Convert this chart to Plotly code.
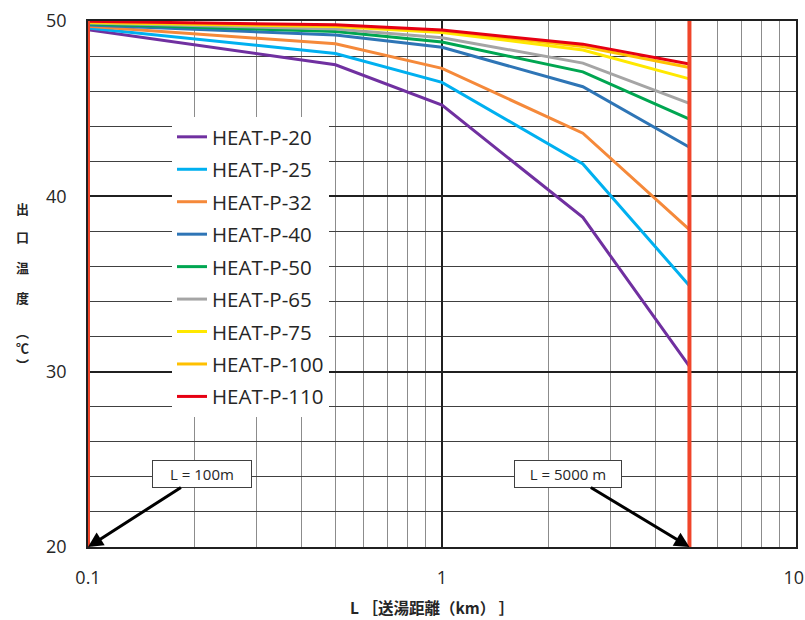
import math
import plotly.graph_objects as go

# ---- data ----
distance_km = [0.1, 0.5, 1, 2.5, 5]
series_names = ["HEAT-P-20", "HEAT-P-25", "HEAT-P-32", "HEAT-P-40", "HEAT-P-50",
                "HEAT-P-65", "HEAT-P-75", "HEAT-P-100", "HEAT-P-110"]
temp_p20 = [49.5, 47.5, 45.2, 38.8, 30.3]
temp_p25 = [49.6, 48.15, 46.5, 41.85, 34.9]
temp_p32 = [49.7, 48.7, 47.3, 43.6, 38.1]
temp_p40 = [49.77, 49.2, 48.5, 46.25, 42.8]
temp_p50 = [49.83, 49.4, 48.8, 47.1, 44.4]
temp_p65 = [49.88, 49.55, 49.05, 47.6, 45.3]
temp_p75 = [49.92, 49.68, 49.35, 48.35, 46.7]
temp_p100 = [49.95, 49.73, 49.45, 48.55, 47.35]
temp_p110 = [49.98, 49.78, 49.48, 48.68, 47.55]
series_values = [temp_p20, temp_p25, temp_p32, temp_p40, temp_p50,
                 temp_p65, temp_p75, temp_p100, temp_p110]
series_colors = ["#7030A0", "#00B0F0", "#F5893A", "#2E75B6", "#00A651",
                 "#A5A5A5", "#FFE800", "#FFC000", "#E60012"]
limit_km = [0.1, 5]
limit_labels = ["L = 100m", "L = 5000 m"]
y_range = [20, 50]
x_ticks = [0.1, 1, 10]
x_tick_labels = ["0.1", "1", "10\u00a0"]
y_ticks = [20, 30, 40, 50]

fig = go.Figure()
for i, (name, vals, col) in enumerate(zip(series_names, series_values, series_colors)):
    fig.add_trace(go.Scatter(x=distance_km, y=vals, mode="lines", name=name,
                             line=dict(color=col, width=3), legendgroup=f"g{i}"))

for lx in limit_km:
    fig.add_trace(go.Scatter(x=[lx, lx], y=y_range, mode="lines", showlegend=False,
                             line=dict(color="#F0452A", width=4), hoverinfo="skip"))

font_num = "'Open Sans', 'Liberation Sans', sans-serif"
font_cjk = "'Noto Sans CJK JP', sans-serif"

W, H = 805, 620
plot_l, plot_r, plot_t, plot_b = 88, 796, 21, 547

fig.update_layout(
    width=W, height=H, autosize=False,
    margin=dict(l=plot_l, r=W - plot_r, t=plot_t, b=H - plot_b),
    paper_bgcolor="white", plot_bgcolor="white",
    showlegend=True,
    legend=dict(x=(172 - plot_l) / (plot_r - plot_l), y=(plot_b - 117) / (plot_b - plot_t),
                xanchor="left", yanchor="top",
                bgcolor="white", borderwidth=0, tracegroupgap=2.8,
                font=dict(family="'Open Sans', sans-serif", size=20.5, color="#262626")),
    xaxis=dict(type="log", range=[math.log10(0.1), math.log10(10)],
               tickvals=x_ticks, ticktext=x_tick_labels, automargin=False,
               ticklabelstandoff=14, ticklabeloverflow="allow",
               tickfont=dict(family=font_num, size=18, color="#262626"),
               showgrid=True, gridcolor="#202020", gridwidth=1.5,
               minor=dict(showgrid=True, dtick="D1", gridcolor="#8c8c8c", gridwidth=1.3),
               showline=True, linecolor="#202020", linewidth=1.5, mirror=True,
               ticks="", zeroline=False),
    yaxis=dict(range=y_range, tickvals=y_ticks, automargin=False,
               ticklabelstandoff=16,
               tickfont=dict(family=font_num, size=18, color="#262626"),
               showgrid=True, gridcolor="#202020", gridwidth=1.5,
               minor=dict(showgrid=True, dtick=2, gridcolor="#404040", gridwidth=1),
               showline=True, linecolor="#202020", linewidth=1.5, mirror=True,
               ticks="", zeroline=False),
)

# arrow annotations
arrow_offsets = [(114, -73), (-121, -73)]
for lx, lab, (ax, ay) in zip(limit_km, limit_labels, arrow_offsets):
    fig.add_annotation(x=math.log10(lx), y=y_range[0], xref="x", yref="y",
                       text=lab, showarrow=True, ax=ax, ay=ay, axref="pixel", ayref="pixel",
                       arrowhead=2, arrowsize=1, arrowwidth=3, arrowcolor="black",
                       width=92 if lx < 1 else 100, height=20,
                       bgcolor="white", bordercolor="#404040", borderwidth=1, borderpad=3,
                       font=dict(family=font_num, size=15, color="#262626"))

def px_to_paper(px, py):
    return (px - plot_l) / (plot_r - plot_l), (plot_b - py) / (plot_b - plot_t)

# y axis title (vertical characters)
ytitle_chars = ["出", "口", "温", "度", "︵", "℃", "︶"]
ytitle_px = [208, 237, 267, 297, 331, 347, 364]
for ch, py in zip(ytitle_chars, ytitle_px):
    xx, yy = px_to_paper(22, py)
    fig.add_annotation(x=xx, y=yy, xref="paper", yref="paper", text=f"<b>{ch}</b>",
                       showarrow=False, font=dict(family=font_cjk, size=13, color="#262626"),
                       xanchor="center", yanchor="middle")

xx, yy = px_to_paper(432, 607)
fig.add_annotation(x=xx, y=yy, xref="paper", yref="paper", text="<b>L ［送湯距離（km） ］</b>",
                   showarrow=False, font=dict(family=font_cjk, size=15.5, color="#262626"),
                   xanchor="center", yanchor="middle")

fig.write_html("out.html", config={"displayModeBar": False},
               post_script="document.body.style.margin='0';document.body.style.overflow='hidden';")
